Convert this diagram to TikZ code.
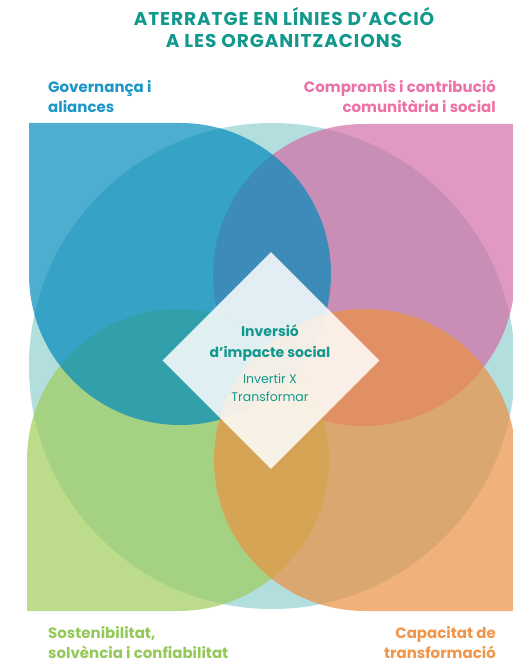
\documentclass[tikz,border=0pt]{standalone}
\usepackage{fontspec}
\setmainfont{Poppins}
\newfontfamily\titlefont{Poppins}[LetterSpace=5]
\usetikzlibrary{shapes.geometric}
\definecolor{ringteal}{RGB}{178,222,222}
\definecolor{leafblue}{RGB}{2,139,188}
\definecolor{leafpink}{RGB}{211,109,165}
\definecolor{leafgreen}{RGB}{160,205,91}
\definecolor{leaforange}{RGB}{234,145,65}
\definecolor{titleteal}{RGB}{18,152,140}
\definecolor{txtblue}{RGB}{28,150,200}
\definecolor{txtpink}{RGB}{236,114,166}
\definecolor{txtgreen}{RGB}{148,200,88}
\definecolor{txtorange}{RGB}{240,150,74}
\tikzset{
  leaf/.style={fill=#1, fill opacity=0.7},
  lbl/.style={font=\bfseries\fontsize{15}{20}\selectfont, inner sep=0pt},
  hub/.style={diamond, fill=white, fill opacity=0.85, minimum width=217pt, minimum height=217pt, inner sep=0pt}
}
\begin{document}
\begin{tikzpicture}[x=1pt,y=-1pt]
\useasboundingbox (0,0) rectangle (512,663);
% background ring
\fill[ringteal] (272,366) circle (243);
% leaves: centre x/y, square corner, arc
\foreach \cx/\cy/\sx/\sy/\a/\b/\col in {364/275/1/-1/0/270/leafpink, 178/460/-1/1/180/450/leafgreen, 180/274/-1/-1/-90/180/leafblue, 365/460/1/1/90/360/leaforange}
  \fill[leaf=\col] ({\cx+\sx*151},{\cy+\sy*151}) -- ([shift={(\cx,\cy)}]\a:151) arc (\a:\b:151) -- cycle;
\node[hub] (hub) at (271,360.5) {};
% texts (base = last line)
\node[lbl, text=titleteal, align=center, anchor=base, font=\titlefont\bfseries\fontsize{18.5}{22.5}\selectfont] (title) at (284,48) {ATERRATGE EN LÍNIES D’ACCIÓ\\A LES ORGANITZACIONS};
\node[lbl, text=txtblue, align=left, anchor=base west] (govlabel) at (48,113) {Governança i\\aliances};
\node[lbl, text=txtpink, align=right, anchor=base east] (commlabel) at (496,113) {Compromís i contribució\\comunitària i social};
\node[lbl, text=txtgreen, align=left, anchor=base west] (sustlabel) at (48,658) {Sostenibilitat,\\solvència i confiabilitat};
\node[lbl, text=txtorange, align=right, anchor=base east] (caplabel) at (496,658) {Capacitat de\\transformació};
\node[lbl, text=titleteal, align=center, anchor=base, font=\bfseries\fontsize{14}{21}\selectfont] (hubtitle) at (270,357) {Inversió\\d’impacte social};
\node[lbl, text=titleteal, align=center, anchor=base, font=\fontsize{12.5}{18}\selectfont] (hubsub) at (270,401) {Invertir X\\Transformar};
\end{tikzpicture}
\end{document}
